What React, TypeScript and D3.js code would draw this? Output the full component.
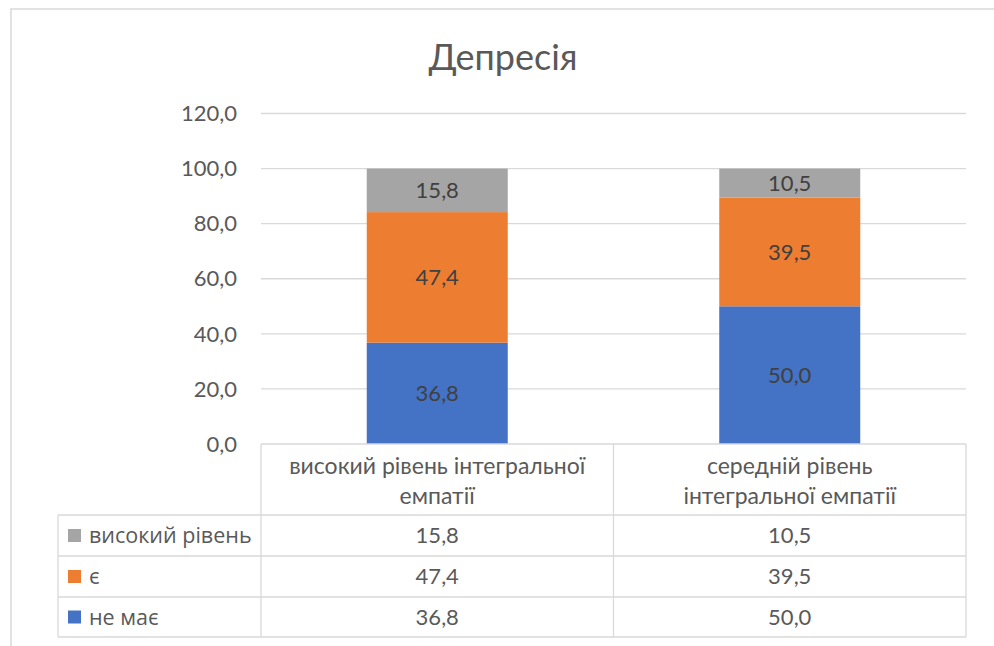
import React from "react";
import * as d3 from "d3";

const categories = ["високий рівень інтегральної емпатії", "середній рівень інтегральної емпатії"];
const categoryLines = [
  ["високий рівень інтегральної", "емпатії"],
  ["середній рівень", "інтегральної емпатії"],
];
const seriesNames = ["не має", "є", "високий рівень"];
const noneValues = [36.8, 50.0];
const presentValues = [47.4, 39.5];
const highValues = [15.8, 10.5];
const yTicks = [0, 20, 40, 60, 80, 100, 120];
const colors = ["#4472C4", "#ED7D31", "#A5A5A5"];

const W = 994;
const H = 646;
const plotLeft = 261;
const plotRight = 966;
const plotTop = 113.5;
const plotBottom = 444;
const tableLeft = 58;
const rowBottoms = [515, 556, 597, 637];

const fmt = (v: number) => v.toFixed(1).replace(".", ",");
const numFont = "Lato, 'Open Sans', sans-serif";
const textFont = "'Open Sans', 'Noto Sans', sans-serif";

export default function App() {
  const seriesValues = [noneValues, presentValues, highValues];
  const rows = categories.map((c, i) => {
    const r: Record<string, number | string> = { cat: c };
    seriesNames.forEach((s, k) => (r[s] = seriesValues[k][i]));
    return r;
  });
  const stacked = d3.stack<Record<string, number | string>>().keys(seriesNames)(rows as any);

  const x = d3.scaleBand<string>().domain(categories).range([plotLeft, plotRight]).paddingInner(0).paddingOuter(0);
  const y = d3.scaleLinear().domain([0, 120]).range([plotBottom, plotTop]);
  const barW = x.bandwidth() * 0.4;

  // table rows in display order: top row is the last series
  const tableSeries = [2, 1, 0];

  return (
    <svg width={W} height={H} style={{ position: "absolute", left: 0, top: 0, background: "#fff" }}>
      <rect x={11} y={9} width={W} height={H} fill="#fff" stroke="#D9D9D9" strokeWidth={1.5} />
      <text x={503} y={70} textAnchor="middle" fontFamily={numFont} fontSize={36} fill="#595959">
        Депресія
      </text>

      {yTicks.map((t) => (
        <g key={t}>
          {t > 0 && <line x1={plotLeft} x2={plotRight} y1={y(t)} y2={y(t)} stroke="#D9D9D9" strokeWidth={1.3} />}
          <text x={237} y={y(t)} dy="0.35em" textAnchor="end" fontFamily={numFont} fontSize={22} fill="#595959">
            {fmt(t)}
          </text>
        </g>
      ))}

      {stacked.map((layer, k) => (
        <g key={layer.key}>
          {layer.map((d, i) => {
            const cx = (x(categories[i]) as number) + x.bandwidth() / 2;
            return (
              <g key={i}>
                <rect x={cx - barW / 2} y={y(d[1])} width={barW} height={y(d[0]) - y(d[1])} fill={colors[k]} />
                <text
                  x={cx}
                  y={(y(d[0]) + y(d[1])) / 2}
                  dy="0.36em"
                  textAnchor="middle"
                  fontFamily={numFont}
                  fontSize={22}
                  fill="#404040"
                >
                  {fmt(d[1] - d[0])}
                </text>
              </g>
            );
          })}
        </g>
      ))}

      {/* data table */}
      <g stroke="#D9D9D9" strokeWidth={1.3} fill="none">
        <line x1={plotLeft} x2={plotRight} y1={plotBottom} y2={plotBottom} />
        {rowBottoms.map((rb) => (
          <line key={rb} x1={tableLeft} x2={plotRight} y1={rb} y2={rb} />
        ))}
        <line x1={tableLeft} x2={tableLeft} y1={rowBottoms[0]} y2={rowBottoms[3]} />
        {categories.map((c) => (
          <line key={c} x1={x(c) as number} x2={x(c) as number} y1={plotBottom} y2={rowBottoms[3]} />
        ))}
        <line x1={plotRight} x2={plotRight} y1={plotBottom} y2={rowBottoms[3]} />
      </g>

      {categories.map((c, i) => {
        const cx = (x(c) as number) + x.bandwidth() / 2;
        return (
          <text key={c} textAnchor="middle" fontFamily={numFont} fontSize={23} fill="#595959">
            {categoryLines[i].map((ln, j) => (
              <tspan key={j} x={cx} y={474 + j * 30}>
                {ln}
              </tspan>
            ))}
          </text>
        );
      })}

      {tableSeries.map((k, r) => {
        const top = rowBottoms[r];
        const cy = (top + rowBottoms[r + 1]) / 2;
        return (
          <g key={k}>
            <rect x={68} y={cy - 6.5} width={13} height={13} fill={colors[k]} />
            <text x={89} y={cy} dy="0.35em" fontFamily={textFont} fontSize={21.5} fill="#595959">
              {seriesNames[k]}
            </text>
            {categories.map((c, i) => (
              <text
                key={c}
                x={(x(c) as number) + x.bandwidth() / 2}
                y={cy}
                dy="0.35em"
                textAnchor="middle"
                fontFamily={numFont}
                fontSize={22}
                fill="#595959"
              >
                {fmt(seriesValues[k][i])}
              </text>
            ))}
          </g>
        );
      })}
    </svg>
  );
}
